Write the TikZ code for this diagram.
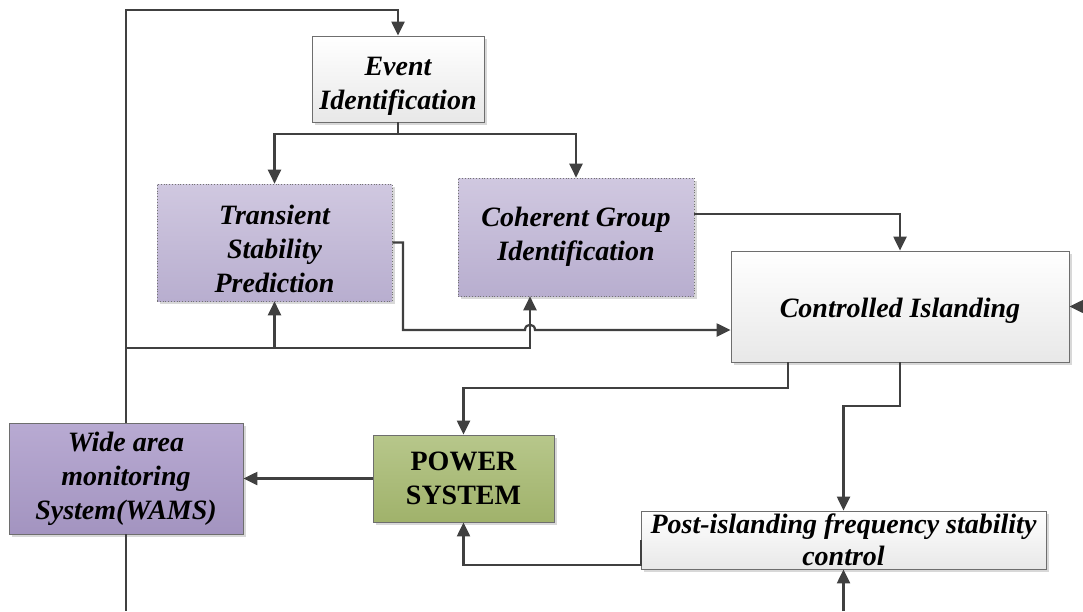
\documentclass[tikz,border=0pt]{standalone}
\usepackage{fontspec}
\setmainfont{Liberation Serif}
\usetikzlibrary{arrows.meta,shadows,calc}

\definecolor{wire}{HTML}{404040}
\definecolor{boxline}{HTML}{6E6E6E}
\definecolor{lavTop}{HTML}{D0C8E0}
\definecolor{lavBot}{HTML}{B8AECF}
\definecolor{wamsTop}{HTML}{B8AAD2}
\definecolor{wamsBot}{HTML}{A394C0}
\definecolor{grnTop}{HTML}{B7C78B}
\definecolor{grnBot}{HTML}{A0B26B}

% raise the top of a text block so its lines sit lower in the box
\newcommand{\toppad}[1]{\rule{0pt}{#1}}

\tikzset{
  box/.style={draw=boxline, line width=0.8pt, inner sep=0pt, align=center,
    font=\fontsize{28}{34}\selectfont\bfseries\itshape,
    drop shadow={shadow xshift=3pt, shadow yshift=-3pt, fill=black!30, opacity=0.5}},
  whitebox/.style={box, top color=white, bottom color=black!9},
  lavbox/.style={box, draw=black!55, dotted, line width=0.6pt, top color=lavTop, bottom color=lavBot},
  wamsbox/.style={box, top color=wamsTop, bottom color=wamsBot},
  powerbox/.style={box, top color=grnTop, bottom color=grnBot,
    font=\fontsize{28}{34}\selectfont\bfseries},
  wireline/.style={draw=wire, line width=2.2pt},
  arr/.style={wireline, -{Triangle[length=14pt, width=13pt]}},
}

\begin{document}
\begin{tikzpicture}[x=1pt, y=-1pt]
  \useasboundingbox (0,0) rectangle (1083,611);
  \fill[white] (0,0) rectangle (1083,611);

  % blocks
  \node[whitebox, minimum width=172, minimum height=86] (ev) at (398,79) {\toppad{33pt}Event\\Identification};
  \node[lavbox, minimum width=235, minimum height=117] (tsp) at (274.5,242.5) {\toppad{33pt}Transient\\Stability\\Prediction};
  \node[lavbox, minimum width=236, minimum height=118] (cgi) at (576,237) {Coherent Group\\Identification};
  \node[whitebox, minimum width=338, minimum height=111] (ci) at (900,306.5) {\toppad{28pt}Controlled Islanding};
  \node[wamsbox, minimum width=234, minimum height=111] (wams) at (126,478.5) {Wide area\\monitoring\\System(WAMS)};
  \node[powerbox, minimum width=181, minimum height=87] (ps) at (463.5,478.5) {POWER\\SYSTEM};
  \node[whitebox, minimum width=405, minimum height=58, font=\fontsize{28}{32}\selectfont\bfseries\itshape] (pf) at (843.5,540) {Post-islanding frequency stability\\control};

  % routing levels and columns
  \coordinate (ytop) at (0,10);
  \coordinate (ysplit) at (0,134);
  \coordinate (y214) at (0,214);
  \coordinate (y330) at (0,330);
  \coordinate (yfb) at (0,348);
  \coordinate (y388) at (0,388);
  \coordinate (y406) at (0,406);
  \coordinate (y565) at (0,565);
  \coordinate (ybot) at (0,611);
  \coordinate (x403) at (403,0);
  \coordinate (x530) at (530,0);
  \coordinate (x788) at (788,0);
  \coordinate (xright) at (1083,0);
  \coordinate (hopc) at (x530 |- y330);

  % monitoring loop
  \draw[arr] (wams.north) -- (wams.north |- ytop) -| (ev.north);
  \draw[wireline] (wams.south) -- (wams.south |- ybot);
  \draw[arr] (wams.north |- yfb) -| (x530 |- cgi.south);
  \draw[arr] (tsp.south |- yfb) -- (tsp.south);

  % event identification branches
  \draw[arr] (ev.south) -- (ev.south |- ysplit) -| (tsp.north);
  \draw[arr] (ev.south |- ysplit) -| (cgi.north);

  % into controlled islanding
  \draw[arr] (tsp.east) -- (x403 |- tsp.east) -- (x403 |- y330) -- ($(hopc)+(-5,0)$)
    .. controls +(0,-7) and +(0,-7) .. ($(hopc)+(5,0)$) -- (ci.west |- y330);
  \draw[arr] (cgi.east |- y214) -| (ci.north);
  \draw[arr] (ci.east -| xright) -- (ci.east);

  % out of controlled islanding
  \draw[arr] (x788 |- ci.south) -- (x788 |- y388) -| (ps.north);
  \draw[arr] (ci.south) -- (ci.south |- y406) -| (pf.north);

  % power system loop
  \draw[arr] (pf.south |- ybot) -- (pf.south);
  \draw[arr] (pf.west) -- (pf.west |- y565) -| (ps.south);
  \draw[arr] (ps.west) -- (wams.east);
\end{tikzpicture}
\end{document}
